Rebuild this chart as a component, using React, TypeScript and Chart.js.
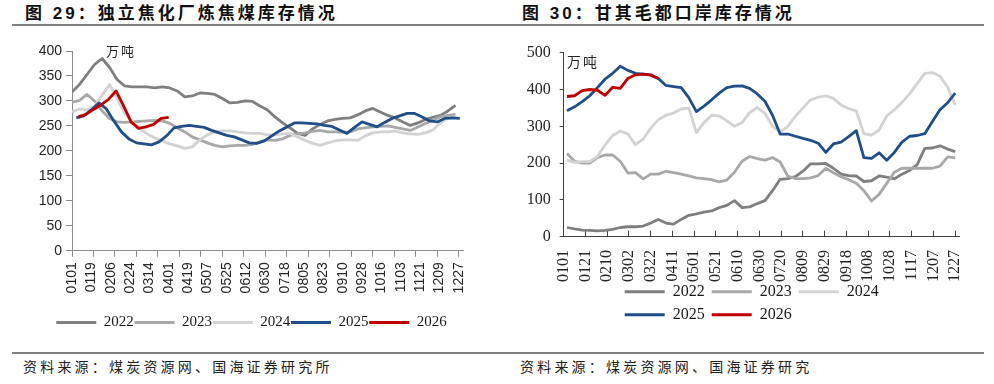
import React, { useEffect, useRef } from 'react';
import { Chart, registerables } from 'chart.js';

Chart.register(...registerables);

// ---------- shared ----------
const seriesNames = ['2022', '2023', '2024', '2025', '2026'];
const seriesColors = ['#7f7f7f', '#a8a8a8', '#d3d3d3', '#1f4e89', '#c00000'];
const weekDays = 7;

// ---------- 图29 独立焦化厂炼焦煤库存（万吨），周度 ----------
const left2022 = [318, 333, 353, 373, 385, 367, 343, 330, 328, 328, 328, 326, 328, 326, 320, 308, 310, 316, 315, 313, 305, 296, 297, 300, 299, 290, 282, 268, 256, 246, 235, 231, 244, 253, 260, 263, 265, 266, 272, 280, 285, 278, 271, 266, 258, 251, 256, 263, 267, 271, 280, 291];
const left2023 = [297, 301, 313, 300, 280, 265, 258, 257, 258, 259, 260, 261, 260, 255, 246, 238, 228, 222, 216, 211, 208, 210, 211, 211, 213, 218, 222, 221, 224, 231, 234, 236, 239, 241, 238, 238, 237, 238, 244, 246, 248, 249, 250, 247, 244, 241, 248, 255, 262, 268, 271, 273];
const left2024 = [278, 284, 282, 290, 312, 333, 305, 275, 258, 245, 234, 226, 220, 214, 210, 205, 208, 222, 232, 238, 240, 240, 238, 236, 235, 235, 232, 232, 234, 235, 228, 221, 215, 211, 216, 220, 222, 222, 221, 230, 236, 238, 238, 240, 236, 234, 233, 236, 242, 256, 265, 268];
const left2025 = [266, 270, 282, 296, 284, 260, 238, 224, 216, 214, 212, 218, 230, 246, 249, 251, 249, 247, 241, 236, 231, 228, 222, 216, 215, 220, 230, 240, 248, 256, 256, 255, 254, 251, 249, 242, 235, 247, 258, 253, 248, 257, 265, 270, 275, 275, 268, 260, 258, 265, 266, 265];
const left2026 = [268, 273, 283, 292, 303, 320, 290, 258, 245, 248, 253, 265, 267];
const leftSeries = [left2022, left2023, left2024, left2025, left2026];
const leftStartDays = [0, 0, 0, 4, 6];
const leftTickLabels = ['0101', '0119', '0206', '0224', '0314', '0401', '0419', '0507', '0525', '0612', '0630', '0718', '0805', '0823', '0910', '0928', '1016', '1103', '1121', '1209', '1227'];

// ---------- 图30 甘其毛都口岸库存（万吨），周度 ----------
const right2022 = [25, 21, 18, 17, 16, 17, 20, 25, 27, 27, 29, 37, 47, 37, 34, 47, 58, 62, 67, 70, 79, 85, 98, 79, 81, 90, 98, 125, 156, 158, 163, 178, 198, 198, 199, 186, 170, 166, 165, 150, 152, 165, 162, 157, 170, 180, 196, 240, 241, 247, 238, 231];
const right2023 = [226, 205, 200, 200, 215, 222, 222, 205, 173, 174, 157, 170, 170, 178, 174, 170, 165, 160, 158, 155, 149, 154, 175, 205, 218, 212, 208, 215, 203, 165, 158, 158, 160, 166, 186, 174, 163, 155, 145, 125, 97, 115, 145, 175, 186, 186, 186, 186, 186, 192, 217, 214];
const right2024 = [208, 202, 204, 204, 218, 249, 275, 287, 279, 250, 265, 295, 318, 330, 336, 347, 350, 283, 310, 330, 328, 315, 300, 310, 337, 351, 335, 300, 284, 300, 327, 350, 372, 379, 383, 376, 358, 348, 342, 280, 276, 290, 328, 345, 365, 388, 416, 444, 446, 436, 406, 358];
const right2025 = [342, 353, 367, 383, 405, 428, 444, 463, 452, 444, 442, 440, 430, 411, 408, 405, 378, 340, 355, 372, 390, 405, 409, 410, 403, 388, 368, 330, 279, 279, 273, 267, 262, 254, 229, 252, 257, 272, 288, 215, 213, 228, 208, 229, 257, 273, 275, 280, 313, 345, 364, 390];
const right2026 = [381, 383, 397, 400, 398, 384, 406, 403, 430, 440, 442, 439, 430];
const rightSeries = [right2022, right2023, right2024, right2025, right2026];
const rightStartDays = [3, 3, 3, 3, 3];
const rightTickLabels = ['0101', '0121', '0210', '0302', '0322', '0411', '0501', '0521', '0610', '0630', '0720', '0809', '0829', '0918', '1008', '1028', '1117', '1207', '1227'];

// plugin: place the legend box where the reference has it
const legendPlacer = {
  id: 'legendPlacer',
  afterLayout(chart: any, _args: any, opts: any) {
    const lg = chart.legend;
    if (!lg || !opts) return;
    const h = typeof opts.height === 'number' ? opts.height : lg.height;
    if (typeof opts.top === 'number') {
      lg.top = opts.top;
      lg.bottom = opts.top + h;
      lg.height = h;
    }
    if (typeof opts.left === 'number') lg.left = opts.left;
    if (typeof opts.right === 'number') lg.right = opts.right;
    lg.width = lg.right - lg.left;
  },
};

type Params = {
  series: number[][];
  startDays: number[];
  labels: string[];
  labelStep: number;
  markStep: number;
  xMax: number;
  yMax: number;
  yStep: number;
  tickFontX: any;
  tickFontY: any;
  legendFont: any;
  axisColor: string;
  yAxisWidth: number;
  xAxisHeight: number;
  padding: any;
  xTickLength: number;
  xTickPadding: number;
  yTickLength: number;
  yTickPadding: number;
  legendPadding: number;
  legendAlign: string;
  legendPlace: any;
  lineWidth: number;
};

function buildConfig(p: Params): any {
  const lastDay = p.labelStep * (p.labels.length - 1);
  const labelDays = p.labels.map((_, i) => i * p.labelStep);
  const markDays: number[] = [];
  for (let d = 0; d <= lastDay; d += p.markStep) markDays.push(d);
  const tickDays = Array.from(new Set([...labelDays, ...markDays])).sort((a, b) => a - b);

  return {
    type: 'line',
    data: {
      datasets: seriesNames.map((name, s) => ({
        label: name,
        data: p.series[s].map((v, i) => ({ x: p.startDays[s] + weekDays * i, y: v })),
        borderColor: seriesColors[s],
        backgroundColor: seriesColors[s],
        borderWidth: p.lineWidth,
        pointRadius: 0,
        pointHoverRadius: 0,
        tension: 0,
        fill: false,
        borderJoinStyle: 'round',
        order: seriesNames.length - s,
      })),
    },
    options: {
      responsive: false,
      animation: false,
      devicePixelRatio: 1,
      events: [],
      layout: { padding: p.padding },
      plugins: {
        tooltip: { enabled: false },
        legend: {
          position: 'bottom',
          align: p.legendAlign,
          labels: {
            font: p.legendFont,
            color: '#1a1a1a',
            boxWidth: 40,
            boxHeight: 3,
            padding: p.legendPadding,
            sort: (a: any, b: any) => a.datasetIndex - b.datasetIndex,
            generateLabels: (chart: any) =>
              (Chart.defaults.plugins.legend.labels as any)
                .generateLabels(chart)
                .map((l: any) => ({ ...l, lineWidth: 0, fillStyle: l.strokeStyle })),
          },
        },
        legendPlacer: p.legendPlace,
      },
      scales: {
        x: {
          type: 'linear',
          min: 0,
          max: p.xMax,
          afterBuildTicks: (scale: any) => {
            scale.ticks = tickDays.map((v) => ({ value: v }));
          },
          afterFit: (scale: any) => {
            scale.height = p.xAxisHeight;
          },
          ticks: {
            autoSkip: false,
            minRotation: 90,
            maxRotation: 90,
            padding: p.xTickPadding,
            color: '#262626',
            font: p.tickFontX,
            callback: (v: any) => {
              const i = labelDays.indexOf(Number(v));
              return i >= 0 ? p.labels[i] : '';
            },
          },
          grid: {
            drawOnChartArea: false,
            drawTicks: true,
            tickLength: p.xTickLength,
            tickWidth: 1,
            tickColor: (ctx: any) =>
              ctx.tick && markDays.includes(ctx.tick.value) ? p.axisColor : 'rgba(0,0,0,0)',
          },
          border: { display: true, color: p.axisColor, width: 1 },
        },
        y: {
          type: 'linear',
          min: 0,
          max: p.yMax,
          afterFit: (scale: any) => {
            scale.width = p.yAxisWidth;
          },
          ticks: {
            stepSize: p.yStep,
            padding: p.yTickPadding,
            color: '#262626',
            font: p.tickFontY,
          },
          grid: {
            drawOnChartArea: false,
            drawTicks: true,
            tickLength: p.yTickLength,
            color: p.axisColor,
          },
          border: { display: true, color: p.axisColor, width: 1 },
        },
      },
    },
    plugins: [legendPlacer],
  };
}

const leftConfig = () =>
  buildConfig({
    series: leftSeries,
    startDays: leftStartDays,
    labels: leftTickLabels,
    labelStep: 18,
    markStep: 20,
    xMax: 364,
    yMax: 400,
    yStep: 50,
    tickFontX: { family: 'Liberation Sans', size: 14 },
    tickFontY: { family: 'Liberation Sans', size: 14 },
    legendFont: { family: 'Liberation Serif', size: 15 },
    axisColor: '#8c8c8c',
    yAxisWidth: 72,
    xAxisHeight: 50,
    padding: { left: 0, right: 34, top: 21, bottom: 23.5 },
    xTickLength: 6,
    xTickPadding: 5.5,
    yTickLength: 6,
    yTickPadding: 4,
    legendPadding: 0.75,
    legendAlign: 'center',
    legendPlace: { top: 284.2, left: 3, right: 500 },
    lineWidth: 2.8,
  });

const rightConfig = () =>
  buildConfig({
    series: rightSeries,
    startDays: rightStartDays,
    labels: rightTickLabels,
    labelStep: 20,
    markStep: 20,
    xMax: 364,
    yMax: 500,
    yStep: 100,
    tickFontX: { family: 'Liberation Serif', size: 16 },
    tickFontY: { family: 'Liberation Serif', size: 16 },
    legendFont: { family: 'Liberation Serif', size: 16 },
    axisColor: '#404040',
    yAxisWidth: 66.7,
    xAxisHeight: 50,
    padding: { left: 0, right: 23.2, top: 22.7, bottom: 30.3 },
    xTickLength: -6,
    xTickPadding: 19.3,
    yTickLength: 4,
    yTickPadding: 9,
    legendPadding: 7,
    legendAlign: 'start',
    legendPlace: { top: 246.7, left: 120.7, right: 470, height: 62 },
    lineWidth: 2.8,
  });

function ChartCanvas({ makeConfig }: { makeConfig: () => any }) {
  const ref = useRef<HTMLCanvasElement | null>(null);
  useEffect(() => {
    if (!ref.current) return;
    const chart = new Chart(ref.current, makeConfig());
    return () => chart.destroy();
  }, []);
  return (
    <canvas
      ref={ref}
      width={497}
      height={320}
      style={{ position: 'absolute', left: 0, top: 30, width: 497, height: 320 }}
    />
  );
}

const cjk = '"Noto Sans CJK SC", "Noto Sans", sans-serif';

function Panel(props: {
  x: number;
  title: string;
  source: string;
  lineLeft: number;
  lineRight: number;
  unitLeft: number;
  unitTop: number;
  unitSize: number;
  makeConfig: () => any;
}) {
  return (
    <div style={{ position: 'absolute', left: props.x, top: 0, width: 497, height: 384 }}>
      <div
        style={{
          position: 'absolute',
          left: 25,
          top: 5,
          fontFamily: '"Liberation Sans", ' + cjk,
          fontWeight: 700,
          fontSize: 17,
          lineHeight: '17px',
          letterSpacing: 3,
          color: '#111',
          whiteSpace: 'nowrap',
        }}
      >
        {props.title}
      </div>
      <div
        style={{
          position: 'absolute',
          left: props.lineLeft,
          width: props.lineRight - props.lineLeft,
          top: 24,
          height: 2,
          background: '#808080',
        }}
      />
      <ChartCanvas makeConfig={props.makeConfig} />
      <div
        style={{
          position: 'absolute',
          left: props.unitLeft,
          top: props.unitTop,
          fontFamily: cjk,
          fontSize: props.unitSize,
          lineHeight: '16px',
          letterSpacing: 2,
          color: '#262626',
          whiteSpace: 'nowrap',
        }}
      >
        万吨
      </div>
      <div
        style={{
          position: 'absolute',
          left: props.lineLeft,
          width: props.lineRight - props.lineLeft,
          top: 352,
          height: 2,
          background: '#808080',
        }}
      />
      <div
        style={{
          position: 'absolute',
          left: 23,
          top: 359,
          fontFamily: cjk,
          fontSize: 14,
          lineHeight: '15px',
          letterSpacing: 3.2,
          color: '#222',
          whiteSpace: 'nowrap',
        }}
      >
        {props.source}
      </div>
    </div>
  );
}

export default function App() {
  return (
    <div
      style={{
        position: 'absolute',
        left: 0,
        top: 0,
        width: 994,
        height: 384,
        background: '#ffffff',
        overflow: 'hidden',
      }}
    >
      <Panel
        x={0}
        title="图 29：独立焦化厂炼焦煤库存情况"
        source="资料来源：煤炭资源网、国海证券研究所"
        lineLeft={12}
        lineRight={497}
        unitLeft={106}
        unitTop={43}
        unitSize={13}
        makeConfig={leftConfig}
      />
      <Panel
        x={497}
        title="图 30：甘其毛都口岸库存情况"
        source="资料来源：煤炭资源网、国海证券研究"
        lineLeft={0}
        lineRight={487}
        unitLeft={70}
        unitTop={53}
        unitSize={14}
        makeConfig={rightConfig}
      />
    </div>
  );
}
